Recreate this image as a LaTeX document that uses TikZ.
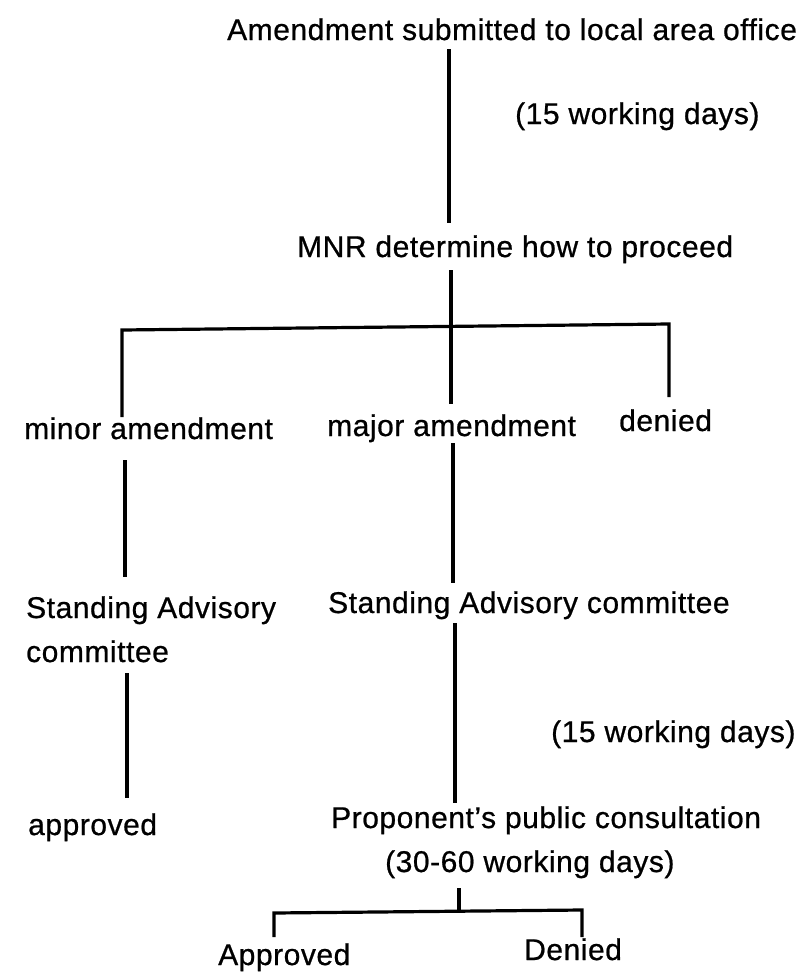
\documentclass[tikz,border=0pt]{standalone}
\usepackage{fontspec}
\setmainfont{Liberation Sans}[LetterSpace=1.8,FakeBold=0.7]
\usetikzlibrary{calc}
\begin{document}
\begin{tikzpicture}[x=1pt,y=-1pt,
  lbl/.style={anchor=base west,inner sep=0pt,font=\fontsize{30}{36}\selectfont},
  ln/.style={line width=3.2pt,line join=miter}]
\useasboundingbox[fill=white] (0,0) rectangle (804,978);
% texts
\node[lbl] (t)    at (227,40)  {Amendment submitted to local area office};
\node[lbl] (d1)   at (515,124) {(15 working days)};
\node[lbl] (m)    at (297,257) {MNR determine how to proceed};
\node[lbl] (mi)   at (24,439)  {minor amendment};
\node[lbl] (ma)   at (327,436) {major amendment};
\node[lbl] (de)   at (619,431) {denied};
\node[lbl] (sa1)  at (26,618)  {Standing Advisory};
\node[lbl] (sa1b) at (26,662)  {committee};
\node[lbl] (sa2)  at (328,613) {Standing Advisory committee};
\node[lbl] (d2)   at (551,742) {(15 working days)};
\node[lbl] (ap1)  at (28,835)  {approved};
\node[lbl] (pc)   at (331,828) {Proponent's public consultation};
\node[lbl] (pcd)  at (385,872) {(30-60 working days)};
\node[lbl] (Ap)   at (218,965) {Approved};
\node[lbl] (De)   at (524,960) {Denied};
% helper coordinates
\coordinate (c1) at (449,0);
\coordinate (c2) at (125,0);
\coordinate (c3) at (127,0);
\coordinate (c4) at (453,0);
\coordinate (c5) at (455,0);
\coordinate (jm) at (451,326);
\coordinate (bl) at (122,330);
\coordinate (br) at (669,324);
\coordinate (j2) at (459,911);
\coordinate (bl2) at (274,913);
\coordinate (br2) at (582,910);
% connectors
\draw[ln] (t.base -| c1) ++(0,9) -- ($(m.base -| c1)+(0,-34)$);
\draw[ln] (m.base -| jm) ++(0,13) -- ($(ma.base -| jm)+(0,-32)$);
\draw[ln] ($(mi.base -| bl)+(0,-22)$) -- (bl) -- (br) -- ($(de.base -| br)+(0,-34)$);
\draw[ln] (mi.base -| c2) ++(0,21) -- ($(sa1.base -| c2)+(0,-41)$);
\draw[ln] (sa1b.base -| c3) ++(0,11) -- ($(ap1.base -| c3)+(0,-37)$);
\draw[ln] (ma.base -| c4) ++(0,7) -- ($(sa2.base -| c4)+(0,-30)$);
\draw[ln] (sa2.base -| c5) ++(0,10) -- ($(pc.base -| c5)+(0,-25)$);
\draw[ln] (pcd.base -| j2) ++(0,16) -- (j2);
\draw[ln] ($(Ap.base -| bl2)+(0,-28)$) -- (bl2) -- (br2) -- ($(De.base -| br2)+(0,-23)$);
\end{tikzpicture}
\end{document}
